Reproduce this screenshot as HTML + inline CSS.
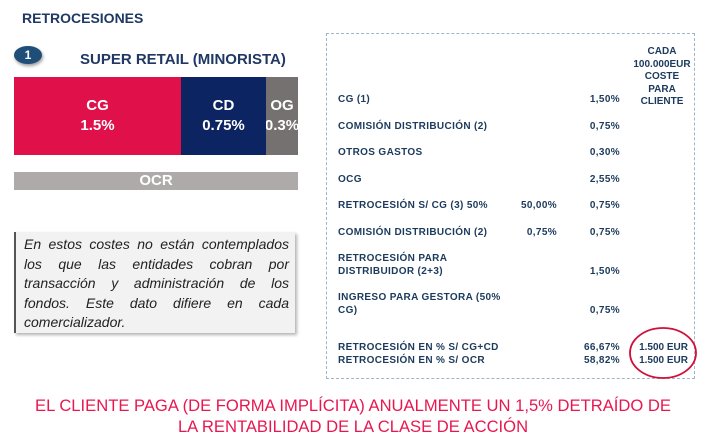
<!DOCTYPE html>
<html><head><meta charset="utf-8"><style>
*{margin:0;padding:0;box-sizing:border-box}
body{width:706px;height:443px;background:#fff;position:relative;overflow:hidden;font-family:"Liberation Sans",sans-serif}
.a{position:absolute}
.t{position:absolute;font-size:10px;letter-spacing:0.35px;font-weight:bold;color:#1b3a5c;white-space:nowrap;line-height:12.5px}
.r{text-align:right}
.bar{display:flex;flex-direction:column;align-items:center;justify-content:center;color:#fff;font-weight:bold;font-size:15px;line-height:20px}
</style></head><body>
<div class="a" style="left:22px;top:10px;font-size:14px;font-weight:bold;color:#1f3864">RETROCESIONES</div>
<div class="a" style="left:14px;top:46px;width:28px;height:18px;border-radius:50%;background:#1f4e79;color:#fff;font-size:12px;font-weight:bold;text-align:center;line-height:18px;box-shadow:1px 2px 3px rgba(0,0,0,.4)">1</div>
<div class="a" style="left:80px;top:51px;font-size:15px;font-weight:bold;color:#1f3864">SUPER RETAIL (MINORISTA)</div>
<div class="a bar" style="left:14px;top:77px;width:167px;height:78px;background:#e0104a"><span>CG</span><span>1.5%</span></div>
<div class="a bar" style="left:181px;top:77px;width:85px;height:78px;background:#0c2461"><span>CD</span><span>0.75%</span></div>
<div class="a bar" style="left:266px;top:77px;width:32px;height:78px;background:#767171;overflow:hidden"><span>OG</span><span>0.3%</span></div>
<div class="a bar" style="left:14px;top:172px;width:284px;height:18px;background:#aeaaaa">OCR</div>
<div class="a" style="left:14px;top:232px;width:281px;height:101px;background:#f2f2f2;border-left:2px solid #555;box-shadow:2px 2px 3px rgba(0,0,0,.3);padding:3px 6px 0 8px;font-style:italic;font-size:14px;line-height:19.5px;color:#222;text-align:justify;text-align-last:left">En estos costes no están contemplados los que las entidades cobran por transacción y administración de los fondos. Este dato difiere en cada comercializador.</div>
<div class="a" style="left:326px;top:33px;width:369px;height:346px;border:1.5px dashed #9fb5ca"></div>
<div class="t" style="left:627px;top:46px;width:70px;text-align:center;letter-spacing:0">CADA<br>100.000EUR<br>COSTE<br>PARA<br>CLIENTE</div>
<div class="t" style="left:338px;top:94px">CG (1)</div>
<div class="t" style="left:338px;top:121px">COMISIÓN DISTRIBUCIÓN (2)</div>
<div class="t" style="left:338px;top:147px">OTROS GASTOS</div>
<div class="t" style="left:338px;top:174px">OCG</div>
<div class="t" style="left:338px;top:200px">RETROCESIÓN S/ CG (3) 50%</div>
<div class="t" style="left:338px;top:227px">COMISIÓN DISTRIBUCIÓN (2)</div>
<div class="t" style="left:338px;top:253px">RETROCESIÓN PARA<br>DISTRIBUIDOR (2+3)</div>
<div class="t" style="left:338px;top:292px">INGRESO PARA GESTORA (50%<br>CG)</div>
<div class="t" style="left:338px;top:342px">RETROCESIÓN EN % S/ CG+CD<br>RETROCESIÓN EN % S/ OCR</div>
<div class="t r" style="left:500px;width:57px;top:200px">50,00%</div>
<div class="t r" style="left:500px;width:57px;top:227px">0,75%</div>
<div class="t r" style="left:560px;width:60px;top:94px">1,50%</div>
<div class="t r" style="left:560px;width:60px;top:121px">0,75%</div>
<div class="t r" style="left:560px;width:60px;top:147px">0,30%</div>
<div class="t r" style="left:560px;width:60px;top:174px">2,55%</div>
<div class="t r" style="left:560px;width:60px;top:200px">0,75%</div>
<div class="t r" style="left:560px;width:60px;top:227px">0,75%</div>
<div class="t r" style="left:560px;width:60px;top:266px">1,50%</div>
<div class="t r" style="left:560px;width:60px;top:305px">0,75%</div>
<div class="t r" style="left:560px;width:60px;top:342px">66,67%<br>58,82%</div>
<div class="t r" style="left:620px;width:68px;top:342px;letter-spacing:0">1.500 EUR<br>1.500 EUR</div>
<svg class="a" style="left:620px;top:320px" width="80" height="70"><ellipse cx="43" cy="33" rx="33" ry="25" fill="none" stroke="#d0103a" stroke-width="1.8"/></svg>
<div class="a" style="left:0;top:395px;width:706px;text-align:center;font-size:16.6px;line-height:21px;color:#e8174f">EL CLIENTE PAGA (DE FORMA IMPLÍCITA) ANUALMENTE UN 1,5% DETRAÍDO DE<br>LA RENTABILIDAD DE LA CLASE DE ACCIÓN</div>
</body></html>
